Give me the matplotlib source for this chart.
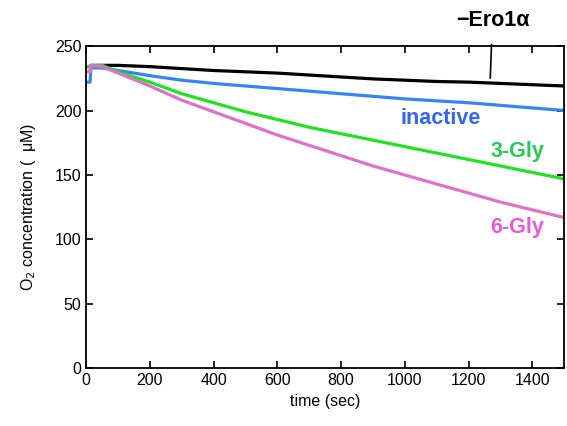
import matplotlib
matplotlib.use("Agg")
import matplotlib.pyplot as plt

plt.rcParams['font.family'] = ['Liberation Sans', 'DejaVu Sans']

# time axis (sec)
t = [0, 12, 15, 50, 100, 200, 300, 400, 500, 600, 700, 800, 900, 1000, 1100, 1200, 1300, 1400, 1500]

# O2 concentration (uM)
ero_minus = [234, 234, 235, 235, 235, 234, 232.5, 231, 230, 229, 227.5, 226, 224.5, 223.5, 222.5, 222, 221, 220, 219]
inactive = [222, 222, 233, 233, 231, 227, 223.5, 221, 219, 217, 215, 213, 211, 209, 207.5, 206, 204, 202, 200]
gly3 = [234, 234, 234.5, 235, 230, 222, 213, 206, 199, 193, 187, 182, 177, 172, 167, 162, 157, 152, 147]
gly6 = [230, 230, 235, 234, 229, 219, 208, 199, 190, 181, 173, 165, 157, 150, 143, 136, 129, 123, 117]

fig = plt.figure(figsize=(5.67, 4.26), dpi=100)
ax = fig.add_axes([0.152, 0.135, 0.843, 0.757])

ax.plot(t, ero_minus, color="black", lw=2.3)
ax.plot(t, inactive, color="#3385f5", lw=2.3)
ax.plot(t, gly3, color="#22e022", lw=2.3)
ax.plot(t, gly6, color="#e070c8", lw=2.3)

ax.set_xlim(0, 1500)
ax.set_ylim(0, 250)
ax.set_xticks(range(0, 1401, 200))
ax.set_yticks(range(0, 251, 50))
ax.tick_params(direction="in", top=True, right=True, length=5, width=1.2, labelsize=11.5)
for s in ax.spines.values():
    s.set_linewidth(1.3)

ax.set_xlabel("time (sec)", fontsize=11.5)
ax.set_ylabel("O$_2$ concentration (  \u03bcM)", fontsize=11.5, labelpad=12)

ax.annotate("\u2212Ero1\u03b1", xy=(1268, 225), xytext=(1275, 270),
            ha="center", va="center", fontsize=15.5, fontweight="bold",
            annotation_clip=False,
            arrowprops=dict(arrowstyle="-", color="black", lw=1.2, shrinkA=8, shrinkB=0))
ax.text(1111, 194, "inactive", color="#3366ee", fontsize=15.5, fontweight="bold", ha="center", va="center")
ax.text(1352, 168, "3-Gly", color="#22cc55", fontsize=15.5, fontweight="bold", ha="center", va="center")
ax.text(1352, 109, "6-Gly", color="#ee55dd", fontsize=15.5, fontweight="bold", ha="center", va="center")

fig.savefig("out.png", dpi=100)
